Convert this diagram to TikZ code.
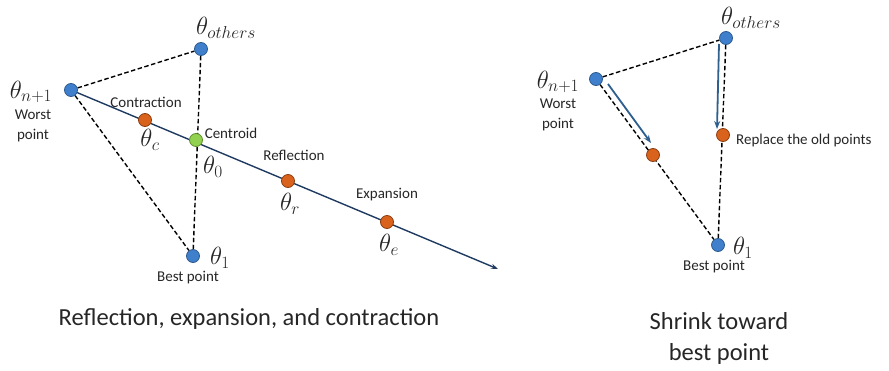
\documentclass[tikz,border=0pt]{standalone}
\usepackage{fontspec}
\setmainfont{Carlito}
\usetikzlibrary{arrows.meta}
\pgfdeclarelayer{background}
\pgfsetlayers{background,main}
\definecolor{ptblue}{HTML}{3F7FCB}
\definecolor{ptbluedk}{HTML}{2E5C8F}
\definecolor{ptorange}{HTML}{D9621C}
\definecolor{ptorangedk}{HTML}{8C3E10}
\definecolor{ptgreen}{HTML}{92D050}
\definecolor{ptgreendk}{HTML}{5E8F2E}
\definecolor{navyline}{HTML}{1F3A60}
\definecolor{arrowblue}{HTML}{2E5F8F}
\definecolor{txt}{HTML}{262626}
\begin{document}
\begin{tikzpicture}[x=1pt,y=-1pt,
  dot/.style={circle, inner sep=0pt, minimum size=13pt, line width=0.8pt},
  bluedot/.style={dot, draw=ptbluedk, fill=ptblue},
  orangedot/.style={dot, draw=ptorangedk, fill=ptorange},
  greendot/.style={dot, draw=ptgreendk, fill=ptgreen},
  mlabel/.style={inner sep=0pt, text=txt, font=\fontsize{24.5}{26}\selectfont},
  slabel/.style={inner sep=0pt, text=txt, font=\fontsize{15}{17}\selectfont},
  slabel2/.style={inner sep=0pt, text=txt, align=center, font=\fontsize{15}{20}\selectfont},
  caption/.style={inner sep=0pt, text=txt, align=center, font=\fontsize{24.5}{31}\selectfont},
  dashline/.style={black, line width=1.4pt, dash pattern=on 4.5pt off 2.5pt},
  mainline/.style={navyline, line width=1.4pt, -{Stealth[length=7pt,width=5pt]}},
  shrinkarrow/.style={arrowblue, line width=1.8pt, -{Stealth[length=8pt,width=6pt]}}
]
\useasboundingbox (0,0) rectangle (889,370);

% ---------------- left diagram ----------------
\node[bluedot] (oL) at (201,49) {};
\node[bluedot] (wL) at (71,90) {};
\node[bluedot] (bL) at (193,256) {};
\node[orangedot] (cL) at (145,120) {};
\node[greendot] (gL) at (196,140) {};
\node[orangedot] (rL) at (288,181) {};
\node[orangedot] (eL) at (387,222) {};
\coordinate (endL) at (498,269);

\begin{pgfonlayer}{background}
\draw[dashline] (wL) -- (oL);
\draw[dashline] (wL) -- (bL);
\draw[dashline] (oL) -- (bL);
\draw[mainline] (wL.center) -- (endL);
\end{pgfonlayer}

\node[mlabel] (loL) at (226,28) {$\theta_{others}$};
\node[mlabel] (lwL) at (31,92) {$\theta_{n+1}$};
\node[slabel2] (twL) at (33,126) {Worst\\point};
\node[slabel] (tcL) at (146,102) {Contraction};
\node[mlabel] (lcL) at (150,140) {$\theta_c$};
\node[slabel] (tgL) at (231,133) {Centroid};
\node[mlabel] (lgL) at (213,167) {$\theta_0$};
\node[slabel] (trL) at (294,155) {Reflection};
\node[mlabel] (lrL) at (290,204) {$\theta_r$};
\node[slabel] (teL) at (387,195) {Expansion};
\node[mlabel] (leL) at (389,245) {$\theta_e$};
\node[mlabel] (lbL) at (220,258) {$\theta_1$};
\node[slabel] (tbL) at (188,278) {Best point};
\node[caption] (capL) at (249,319) {Reflection, expansion, and contraction};

% ---------------- right diagram ----------------
\node[bluedot] (oR) at (726,38) {};
\node[bluedot] (wR) at (596,79) {};
\node[bluedot] (bR) at (718,245) {};
\node[orangedot] (nR1) at (653,155) {};
\node[orangedot] (nR2) at (723,135) {};
\coordinate (a1s) at (608,84);
\coordinate (a1e) at (651,143);
\coordinate (a2s) at (719,44);
\coordinate (a2e) at (717,129);

\begin{pgfonlayer}{background}
\draw[dashline] (wR) -- (oR);
\draw[dashline] (wR) -- (bR);
\draw[dashline] (oR) -- (bR);
\end{pgfonlayer}
\draw[shrinkarrow] (a1s) -- (a1e);
\draw[shrinkarrow] (a2s) -- (a2e);

\node[mlabel] (loR) at (751,18) {$\theta_{others}$};
\node[mlabel] (lwR) at (558,82) {$\theta_{n+1}$};
\node[slabel2] (twR) at (558,115) {Worst\\point};
\node[slabel, anchor=west] (tnR) at (736,140) {Replace the old points};
\node[mlabel] (lbR) at (743,248) {$\theta_1$};
\node[slabel] (tbR) at (714,267) {Best point};
\node[caption] (capR) at (719,338) {Shrink toward\\best point};
\end{tikzpicture}
\end{document}
